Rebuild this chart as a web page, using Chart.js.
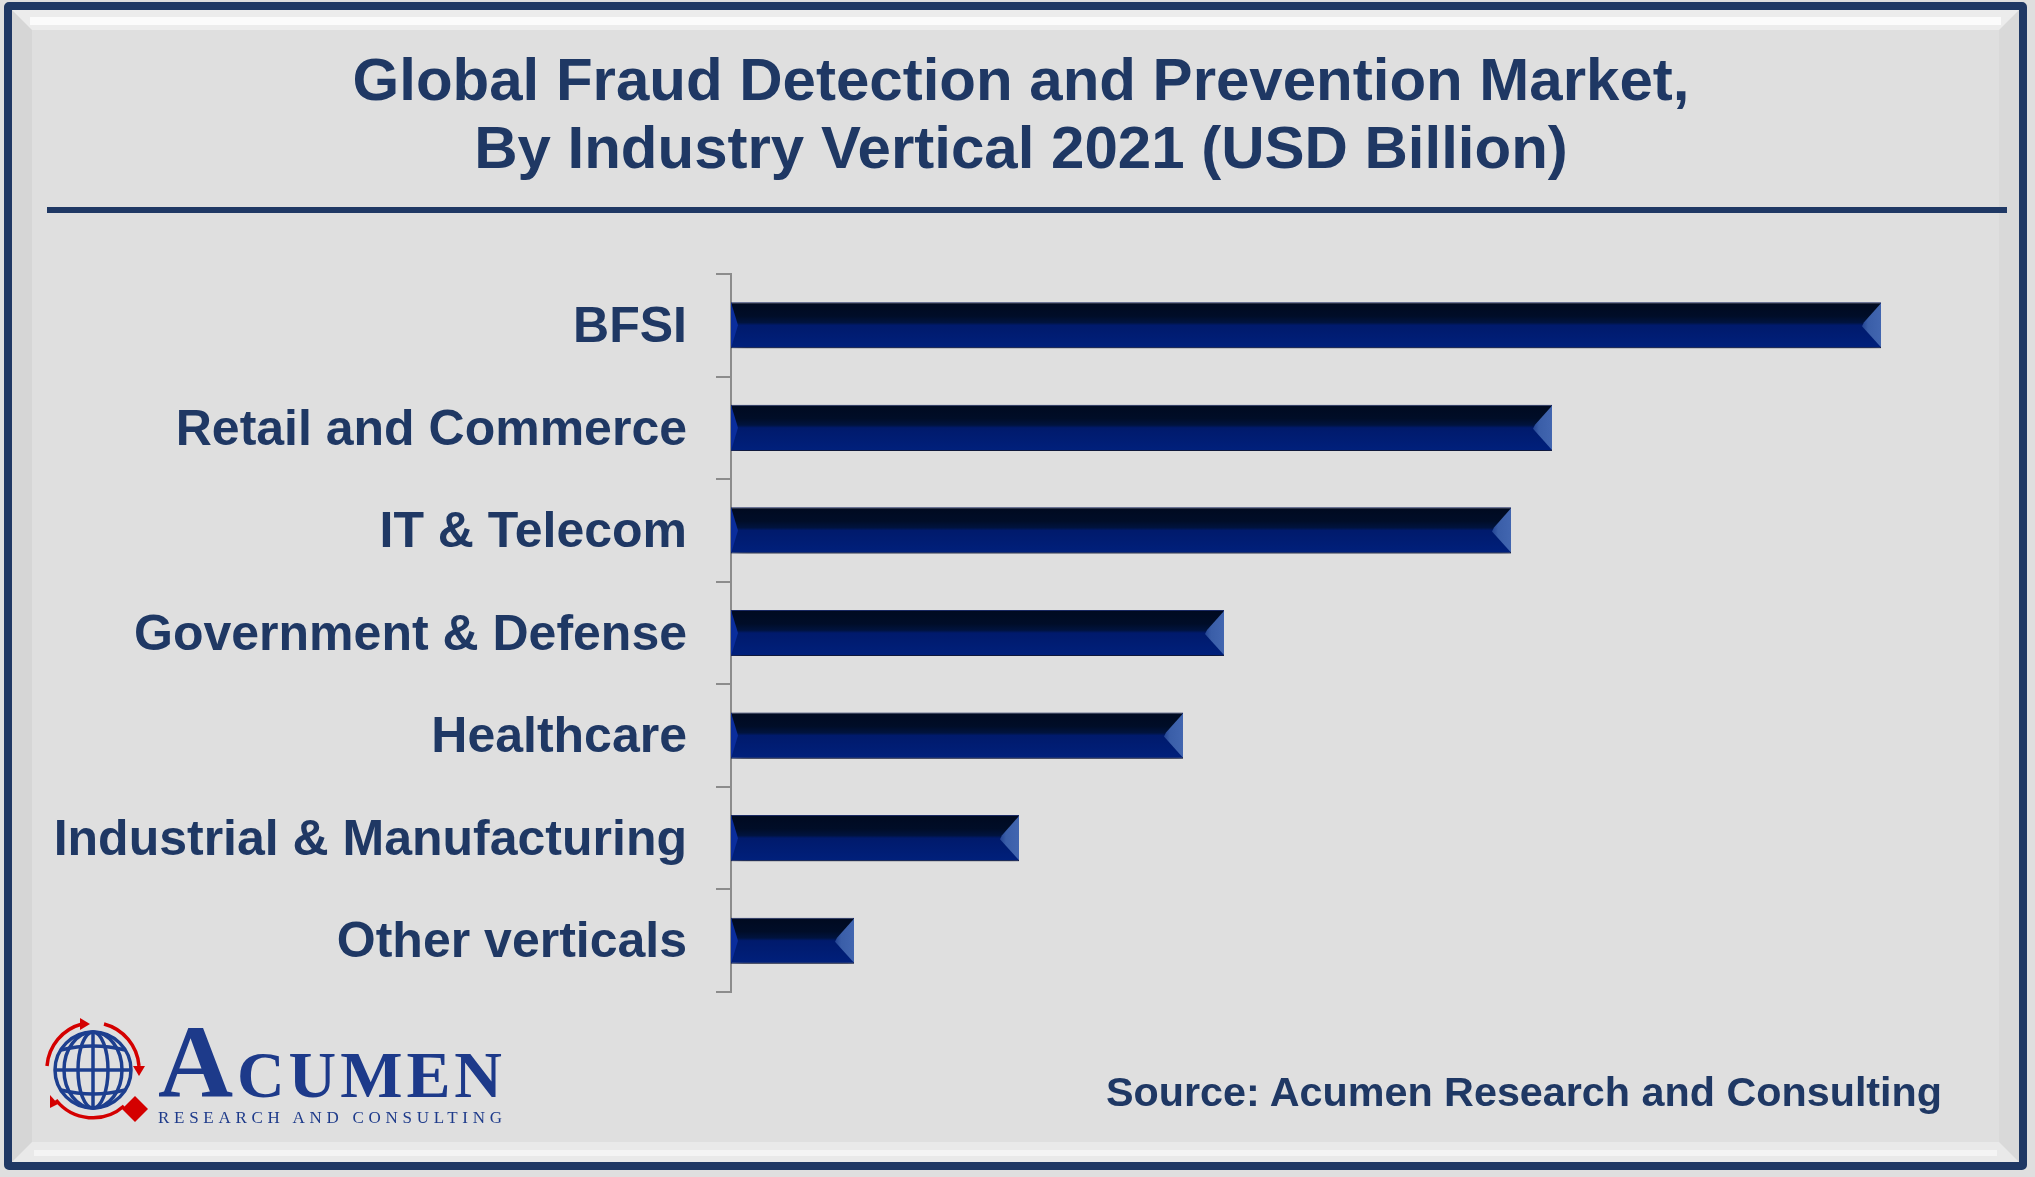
<!DOCTYPE html>
<html>
<head>
<meta charset="utf-8">
<script src="https://cdn.jsdelivr.net/npm/chart.js@4.4.0/dist/chart.umd.min.js"></script>
<style>
    html, body { margin: 0; padding: 0; background: #dfdfdf; }
    body { width: 2035px; height: 1177px; position: relative; overflow: hidden; font-family: "Liberation Sans", Arial, sans-serif; }
    #frame { position: absolute; left: 4px; top: 2px; width: 2007px; height: 1152px; border: 8px solid #1f3864; border-radius: 5px; background: #dfdfdf; }
    #bevel { position: absolute; left: 0; top: 0; right: 0; bottom: 0; border-style: solid; border-width: 20px; border-color: #ececec #d9d9d9 #e9e9e9 #d6d6d6; }
    #bevel-hi { position: absolute; left: 18px; right: 18px; top: 7px; height: 8px; background: #fbfbfb; }
    #bevel-lo { position: absolute; left: 22px; right: 22px; bottom: 6px; height: 6px; background: #f4f4f4; }
    #wrap { position: absolute; left: 0; top: 0; width: 2035px; height: 1177px; }
    #title { position: absolute; left: 21px; width: 2000px; top: 46px; text-align: center; font-weight: bold; font-size: 60px; line-height: 68px; color: #1f3864; }
    #rule { position: absolute; left: 47px; width: 1960px; top: 207px; height: 6px; background: #1f3864; }
    #source { position: absolute; left: 1106px; top: 1067px; font-weight: bold; font-size: 41.3px; line-height: 50px; color: #1f3864; white-space: nowrap; }
    #logo { position: absolute; left: 30px; top: 1010px; }
</style>
</head>
<body>
<div id="frame"><div id="bevel"></div><div id="bevel-hi"></div><div id="bevel-lo"></div></div>
<div id="wrap"><canvas id="chart1"></canvas></div>
<div id="title">Global Fraud Detection and Prevention Market,<br>By Industry Vertical 2021 (USD Billion)</div>
<div id="rule"></div>
<svg id="logo" width="500" height="130" viewBox="30 1010 500 130">
    <g fill="none" stroke="#1d3f8f" stroke-width="3.5">
        <circle cx="93" cy="1070" r="38"/>
        <ellipse cx="93" cy="1070" rx="15" ry="38"/>
        <ellipse cx="93" cy="1070" rx="29" ry="38"/>
        <line x1="93" y1="1032" x2="93" y2="1108"/>
        <line x1="55" y1="1070" x2="131" y2="1070"/>
        <path d="M 61 1050 Q 93 1042 125 1050"/>
        <path d="M 61 1090 Q 93 1098 125 1090"/>
    </g>
    <g fill="none" stroke="#d40000" stroke-width="3.5">
        <path d="M 47 1066 A 47 47 0 0 1 82 1024"/>
        <path d="M 104 1024 A 47 47 0 0 1 139 1066"/>
        <path d="M 124 1106 A 47 47 0 0 1 56 1100"/>
    </g>
    <g fill="#d40000">
        <polygon points="80,1018 90,1024 80,1030"/>
        <polygon points="133,1066 145,1066 139,1076"/>
        <polygon points="50,1095 58,1104 50,1108"/>
        <polygon points="135,1096 148,1109 135,1122 122,1109"/>
    </g>
    <text x="158" y="1097" fill="#1d3a8a" font-family="Liberation Serif" font-weight="bold" textLength="344" lengthAdjust="spacing"><tspan font-size="104">A</tspan><tspan font-size="66">CUMEN</tspan></text>
    <text x="158" y="1123" fill="#1d3a8a" font-family="Liberation Serif" font-size="17" textLength="344" lengthAdjust="spacing">RESEARCH AND CONSULTING</text>
</svg>
<div id="source">Source: Acumen Research and Consulting</div>
<script>
const verticals = ["BFSI", "Retail and Commerce", "IT & Telecom", "Government & Defense", "Healthcare", "Industrial & Manufacturing", "Other verticals"];
const revenue2021 = [11.5, 8.21, 7.8, 4.93, 4.52, 2.88, 1.23];
const axisMax = 12;

const navy = "#1f3864";
const barPct = 0.45;

(() => {
    // vertical shading of each bar, dark top and blue lower half
    const barFill = (ctx) => {
        const chart = ctx.chart;
        const yScale = chart.scales.y;
        if (!yScale || ctx.dataIndex === undefined) return "#001e78";
        const c = yScale.getPixelForValue(ctx.dataIndex);
        const h = yScale.height / verticals.length * barPct;
        if (!isFinite(c) || !isFinite(h) || h <= 0) return "#001e78";
        const g = chart.ctx.createLinearGradient(0, c - h / 2, 0, c + h / 2);
        g.addColorStop(0, "#000a20");
        g.addColorStop(0.3, "#000d28");
        g.addColorStop(0.44, "#00133e");
        g.addColorStop(0.5, "#001a6c");
        g.addColorStop(1, "#00207c");
        return g;
    };

    // drop shadow under the bars + bevelled ends
    const bevel = {
        id: "bevel",
        beforeDatasetsDraw(chart) {
            const c = chart.ctx;
            c.save();
            c.shadowColor = "rgba(0,0,0,0.5)";
            c.shadowBlur = 13;
            c.shadowOffsetX = 3;
            c.shadowOffsetY = 8;
        },
        afterDatasetsDraw(chart) {
            const c = chart.ctx;
            c.restore();
            chart.getDatasetMeta(0).data.forEach((bar) => {
                const top = bar.y - bar.height / 2;
                const bot = bar.y + bar.height / 2;
                const end = bar.x;
                const base = bar.base;
                c.save();
                // left end
                c.fillStyle = "#0a2d9c";
                c.beginPath();
                c.moveTo(base, top);
                c.lineTo(base + 7, bar.y);
                c.lineTo(base, bot);
                c.closePath();
                c.fill();
                // right end
                const g = c.createLinearGradient(end - 20, 0, end, 0);
                g.addColorStop(0, "#1f3f8e");
                g.addColorStop(0.35, "#3a5ea8");
                g.addColorStop(1, "#4266b0");
                c.fillStyle = g;
                c.beginPath();
                c.moveTo(end, top + 1);
                c.lineTo(end - 17, bar.y - 3);
                c.lineTo(end - 19, bar.y + 1);
                c.lineTo(end, bot - 1);
                c.closePath();
                c.fill();
                c.restore();
            });
        },
    };

    const element = document.getElementById("chart1");
    const config = {
        type: "bar",
        data: {
            labels: verticals,
            datasets: [{
                data: revenue2021,
                backgroundColor: barFill,
                borderColor: "#1a2a66",
                borderWidth: 1,
                borderSkipped: false,
                barPercentage: barPct,
                categoryPercentage: 1,
            }],
        },
        options: {
            indexAxis: "y",
            responsive: true,
            maintainAspectRatio: false,
            animation: false,
            layout: {
                padding: { top: 274, bottom: 185, left: 0, right: 2035 - 731 - axisMax * 100 },
            },
            scales: {
                x: {
                    display: false,
                    min: 0,
                    max: axisMax,
                },
                y: {
                    afterFit: (s) => { s.width = 731; },
                    border: { display: true, color: "#8c8c8c", width: 2 },
                    grid: {
                        offset: true,
                        drawOnChartArea: false,
                        drawTicks: true,
                        tickLength: 15,
                        color: "#8c8c8c",
                        lineWidth: 2,
                    },
                    ticks: {
                        padding: 29,
                        labelOffset: 3,
                        color: navy,
                        font: { family: "'Liberation Sans', Arial, sans-serif", size: 50, weight: "bold" },
                    },
                },
            },
            plugins: {
                legend: { display: false },
                tooltip: { enabled: false },
            },
        },
        plugins: [bevel],
    };
    new Chart(element, config);
})();
</script>
</body>
</html>
